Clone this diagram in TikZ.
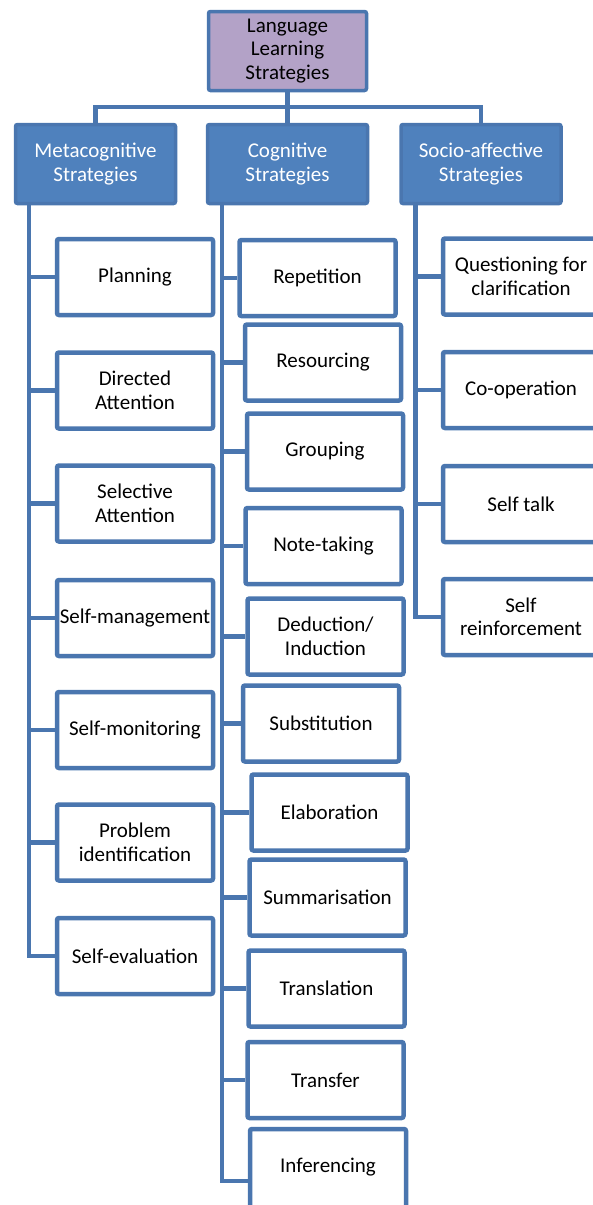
\documentclass[tikz,border=0pt]{standalone}
\usepackage{fontspec}
\setmainfont{Carlito}
\usepackage{tikz}
\definecolor{strokeblue}{RGB}{74,118,175}
\definecolor{headblue}{RGB}{79,129,189}
\definecolor{rootlilac}{RGB}{179,162,199}

\begin{document}
\begin{tikzpicture}[x=1pt,y=-1pt,
  box/.style={draw=strokeblue, line width=4.5pt, rounded corners=2pt, fill=white,
    minimum width=156pt, minimum height=76pt, align=center, inner sep=1pt,
    font=\fontsize{21}{23.5}\selectfont},
  head/.style={box, fill=headblue, text=white, line width=3.5pt,
    minimum width=160pt, minimum height=79pt},
  link/.style={draw=strokeblue, line width=4.5pt}]
  \useasboundingbox (0,0) rectangle (592,1205);

  % top and the three groups
  \node[head, fill=rootlilac, text=black, minimum width=158pt] (root) at (287.5,51)
    {Language\\Learning\\Strategies};
  \node[head] (meta) at (95.5,164) {Metacognitive\\Strategies};
  \node[head] (cog) at (287.5,164) {Cognitive\\Strategies};
  \node[head] (socio) at (481,164) {Socio-affective\\Strategies};

  % metacognitive
  \foreach \n/\x/\y/\t in {plan/135/277/Planning, dirat/135/390.5/{Directed\\Attention},
      selat/135/503.5/{Selective\\Attention}, selfman/135/618/Self-management,
      selfmon/135/730/Self-monitoring, probid/135/842.5/{Problem\\identification},
      selfev/135/956/Self-evaluation}
    \node[box] (\n) at (\x,\y) {\t};

  % cognitive
  \foreach \n/\x/\y/\t in {rep/317.5/278/Repetition, res/323/362.5/Resourcing,
      grp/325/451.5/Grouping, note/323.5/546/Note-taking,
      ded/325.5/636.5/{Deduction/\\Induction}, sub/321/723.5/Substitution,
      ela/329.5/812.5/Elaboration, summ/327.5/897.5/Summarisation,
      trans/326.5/988.5/Translation, trf/325.5/1080/Transfer}
    \node[box] (\n) at (\x,\y) {\t};
  \node[box, minimum height=90pt, text depth=17pt] (inf) at (328,1174) {Inferencing};

  % socio-affective
  \foreach \n/\x/\y/\t in {quest/521/276.5/{Questioning for\\clarification},
      coop/521/390/Co-operation, talk/521/504/Self talk,
      reinf/521/617/{Self\\reinforcement}}
    \node[box] (\n) at (\x,\y) {\t};

  % connectors
  \coordinate (bus) at (287.5,107);
  \draw[link] (root.south) -- (bus) -| (meta.north);
  \draw[link] (bus) -| (socio.north);
  \draw[link] (bus) -- (cog.north);
  \foreach \n in {plan,dirat,selat,selfman,selfmon,probid,selfev}
    \draw[link] ([xshift=15pt]meta.south west) |- (\n.west);
  \foreach \n in {rep,res,grp,note,ded,sub,ela,summ,trans,trf}
    \draw[link] ([xshift=16pt]cog.south west) |- (\n.west);
  \draw[link] ([xshift=16pt]cog.south west) |- ([yshift=-7pt]inf.west);
  \foreach \n in {quest,coop,talk,reinf}
    \draw[link] ([xshift=16pt]socio.south west) |- (\n.west);
\end{tikzpicture}
\end{document}
